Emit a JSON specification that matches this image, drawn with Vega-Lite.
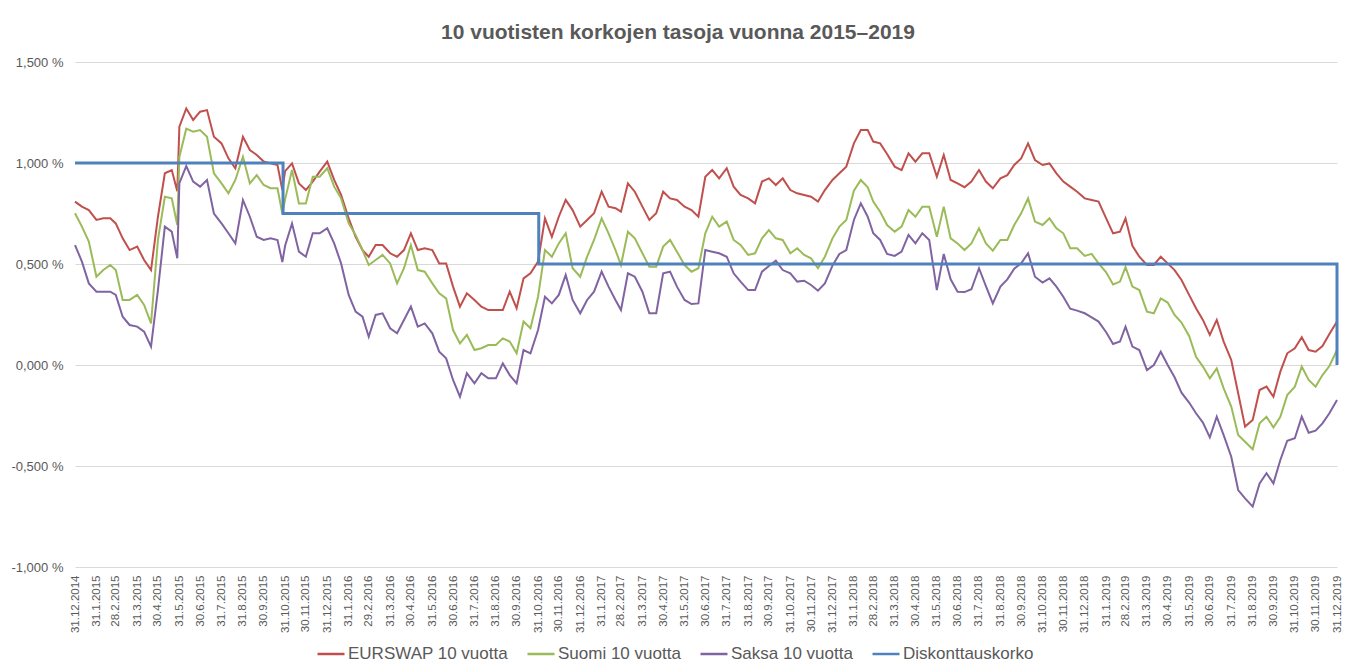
{
  "$schema": "https://vega.github.io/schema/vega-lite/v6.json",
  "width": 1262,
  "height": 505,
  "autosize": {"type": "none"},
  "padding": {"left": 75, "top": 62, "right": 19, "bottom": 105},
  "background": "white",
  "title": {"text": "10 vuotisten korkojen tasoja vuonna 2015–2019", "font": "Liberation Sans", "fontSize": 21, "fontWeight": "bold", "color": "#595959", "anchor": "middle", "dx": -28, "offset": 13},
  "config": {"view": {"stroke": null}},
  "datasets": {
    "months": [
      {"d":"2014-12-31"},{"d":"2015-01-31"},{"d":"2015-02-28"},{"d":"2015-03-31"},{"d":"2015-04-30"},{"d":"2015-05-31"},{"d":"2015-06-30"},{"d":"2015-07-31"},{"d":"2015-08-31"},{"d":"2015-09-30"},{"d":"2015-10-31"},{"d":"2015-11-30"},{"d":"2015-12-31"},
      {"d":"2016-01-31"},{"d":"2016-02-29"},{"d":"2016-03-31"},{"d":"2016-04-30"},{"d":"2016-05-31"},{"d":"2016-06-30"},{"d":"2016-07-31"},{"d":"2016-08-31"},{"d":"2016-09-30"},{"d":"2016-10-31"},{"d":"2016-11-30"},{"d":"2016-12-31"},
      {"d":"2017-01-31"},{"d":"2017-02-28"},{"d":"2017-03-31"},{"d":"2017-04-30"},{"d":"2017-05-31"},{"d":"2017-06-30"},{"d":"2017-07-31"},{"d":"2017-08-31"},{"d":"2017-09-30"},{"d":"2017-10-31"},{"d":"2017-11-30"},{"d":"2017-12-31"},
      {"d":"2018-01-31"},{"d":"2018-02-28"},{"d":"2018-03-31"},{"d":"2018-04-30"},{"d":"2018-05-31"},{"d":"2018-06-30"},{"d":"2018-07-31"},{"d":"2018-08-31"},{"d":"2018-09-30"},{"d":"2018-10-31"},{"d":"2018-11-30"},{"d":"2018-12-31"},
      {"d":"2019-01-31"},{"d":"2019-02-28"},{"d":"2019-03-31"},{"d":"2019-04-30"},{"d":"2019-05-31"},{"d":"2019-06-30"},{"d":"2019-07-31"},{"d":"2019-08-31"},{"d":"2019-09-30"},{"d":"2019-10-31"},{"d":"2019-11-30"},{"d":"2019-12-31"}
    ],
    "disk": [
      {"d":"2014-12-31","v":1.0},
      {"d":"2015-10-28","v":0.75},
      {"d":"2016-11-01","v":0.5},
      {"d":"2019-12-31","v":0.0}
    ],
    "rates": [
      {"d":"2014-12-31","e":0.809,"s":0.751,"g":0.594},
      {"d":"2015-01-10","e":0.784,"s":0.685,"g":0.512},
      {"d":"2015-01-20","e":0.767,"s":0.611,"g":0.404},
      {"d":"2015-01-31","e":0.718,"s":0.437,"g":0.363},
      {"d":"2015-02-10","e":0.726,"s":0.470,"g":0.363},
      {"d":"2015-02-20","e":0.726,"s":0.495,"g":0.363},
      {"d":"2015-02-28","e":0.701,"s":0.470,"g":0.347},
      {"d":"2015-03-10","e":0.627,"s":0.322,"g":0.239},
      {"d":"2015-03-20","e":0.569,"s":0.322,"g":0.198},
      {"d":"2015-03-31","e":0.586,"s":0.347,"g":0.190},
      {"d":"2015-04-10","e":0.520,"s":0.297,"g":0.165},
      {"d":"2015-04-20","e":0.470,"s":0.206,"g":0.091},
      {"d":"2015-04-30","e":0.734,"s":0.619,"g":0.371},
      {"d":"2015-05-10","e":0.949,"s":0.833,"g":0.685},
      {"d":"2015-05-20","e":0.965,"s":0.825,"g":0.660},
      {"d":"2015-05-28","e":0.860,"s":0.693,"g":0.528},
      {"d":"2015-05-31","e":1.180,"s":1.030,"g":0.900},
      {"d":"2015-06-10","e":1.270,"s":1.170,"g":0.985},
      {"d":"2015-06-20","e":1.213,"s":1.155,"g":0.908},
      {"d":"2015-06-30","e":1.254,"s":1.163,"g":0.883},
      {"d":"2015-07-10","e":1.262,"s":1.130,"g":0.916},
      {"d":"2015-07-20","e":1.130,"s":0.949,"g":0.750},
      {"d":"2015-07-31","e":1.097,"s":0.899,"g":0.701},
      {"d":"2015-08-10","e":1.023,"s":0.850,"g":0.652},
      {"d":"2015-08-20","e":0.974,"s":0.916,"g":0.602},
      {"d":"2015-08-31","e":1.130,"s":1.031,"g":0.817},
      {"d":"2015-09-10","e":1.064,"s":0.899,"g":0.734},
      {"d":"2015-09-20","e":1.040,"s":0.940,"g":0.635},
      {"d":"2015-09-30","e":1.007,"s":0.891,"g":0.619},
      {"d":"2015-10-10","e":0.998,"s":0.875,"g":0.627},
      {"d":"2015-10-20","e":0.990,"s":0.875,"g":0.619},
      {"d":"2015-10-27","e":0.866,"s":0.750,"g":0.510},
      {"d":"2015-10-31","e":0.960,"s":0.820,"g":0.590},
      {"d":"2015-11-10","e":0.998,"s":0.965,"g":0.701},
      {"d":"2015-11-20","e":0.899,"s":0.800,"g":0.561},
      {"d":"2015-11-30","e":0.866,"s":0.800,"g":0.536},
      {"d":"2015-12-10","e":0.908,"s":0.932,"g":0.652},
      {"d":"2015-12-20","e":0.957,"s":0.932,"g":0.652},
      {"d":"2015-12-31","e":1.007,"s":0.974,"g":0.677},
      {"d":"2016-01-10","e":0.916,"s":0.883,"g":0.602},
      {"d":"2016-01-20","e":0.842,"s":0.825,"g":0.503},
      {"d":"2016-01-31","e":0.726,"s":0.701,"g":0.347},
      {"d":"2016-02-10","e":0.635,"s":0.644,"g":0.264},
      {"d":"2016-02-20","e":0.569,"s":0.569,"g":0.239},
      {"d":"2016-02-29","e":0.536,"s":0.495,"g":0.140},
      {"d":"2016-03-10","e":0.594,"s":0.520,"g":0.248},
      {"d":"2016-03-20","e":0.594,"s":0.545,"g":0.256},
      {"d":"2016-03-31","e":0.553,"s":0.503,"g":0.182},
      {"d":"2016-04-10","e":0.536,"s":0.404,"g":0.157},
      {"d":"2016-04-20","e":0.569,"s":0.479,"g":0.223},
      {"d":"2016-04-30","e":0.652,"s":0.594,"g":0.289},
      {"d":"2016-05-10","e":0.569,"s":0.470,"g":0.190},
      {"d":"2016-05-20","e":0.578,"s":0.462,"g":0.206},
      {"d":"2016-05-31","e":0.569,"s":0.404,"g":0.157},
      {"d":"2016-06-10","e":0.503,"s":0.355,"g":0.066},
      {"d":"2016-06-20","e":0.503,"s":0.330,"g":0.033},
      {"d":"2016-06-30","e":0.388,"s":0.173,"g":-0.074},
      {"d":"2016-07-10","e":0.289,"s":0.107,"g":-0.157},
      {"d":"2016-07-20","e":0.355,"s":0.149,"g":-0.041},
      {"d":"2016-07-31","e":0.322,"s":0.074,"g":-0.091},
      {"d":"2016-08-10","e":0.289,"s":0.083,"g":-0.041},
      {"d":"2016-08-20","e":0.272,"s":0.099,"g":-0.066},
      {"d":"2016-08-31","e":0.272,"s":0.099,"g":-0.066},
      {"d":"2016-09-10","e":0.272,"s":0.132,"g":0.008},
      {"d":"2016-09-20","e":0.363,"s":0.116,"g":-0.050},
      {"d":"2016-09-30","e":0.281,"s":0.058,"g":-0.091},
      {"d":"2016-10-10","e":0.429,"s":0.215,"g":0.074},
      {"d":"2016-10-20","e":0.454,"s":0.182,"g":0.058},
      {"d":"2016-10-31","e":0.512,"s":0.338,"g":0.173},
      {"d":"2016-11-10","e":0.726,"s":0.569,"g":0.338},
      {"d":"2016-11-20","e":0.635,"s":0.536,"g":0.305},
      {"d":"2016-11-30","e":0.734,"s":0.602,"g":0.347},
      {"d":"2016-12-10","e":0.817,"s":0.652,"g":0.446},
      {"d":"2016-12-20","e":0.767,"s":0.479,"g":0.322},
      {"d":"2016-12-31","e":0.685,"s":0.437,"g":0.256},
      {"d":"2017-01-10","e":0.718,"s":0.536,"g":0.322},
      {"d":"2017-01-20","e":0.751,"s":0.619,"g":0.363},
      {"d":"2017-01-31","e":0.858,"s":0.726,"g":0.462},
      {"d":"2017-02-10","e":0.784,"s":0.652,"g":0.388},
      {"d":"2017-02-20","e":0.776,"s":0.569,"g":0.322},
      {"d":"2017-02-28","e":0.759,"s":0.495,"g":0.272},
      {"d":"2017-03-10","e":0.899,"s":0.660,"g":0.454},
      {"d":"2017-03-20","e":0.858,"s":0.627,"g":0.437},
      {"d":"2017-03-31","e":0.784,"s":0.553,"g":0.363},
      {"d":"2017-04-10","e":0.718,"s":0.487,"g":0.256},
      {"d":"2017-04-20","e":0.751,"s":0.487,"g":0.256},
      {"d":"2017-04-30","e":0.858,"s":0.586,"g":0.454},
      {"d":"2017-05-10","e":0.825,"s":0.619,"g":0.462},
      {"d":"2017-05-20","e":0.817,"s":0.561,"g":0.388},
      {"d":"2017-05-31","e":0.784,"s":0.495,"g":0.322},
      {"d":"2017-06-10","e":0.767,"s":0.462,"g":0.302},
      {"d":"2017-06-20","e":0.734,"s":0.479,"g":0.305},
      {"d":"2017-06-30","e":0.932,"s":0.652,"g":0.569},
      {"d":"2017-07-10","e":0.965,"s":0.734,"g":0.561},
      {"d":"2017-07-20","e":0.924,"s":0.685,"g":0.553},
      {"d":"2017-07-31","e":0.974,"s":0.710,"g":0.536},
      {"d":"2017-08-10","e":0.883,"s":0.619,"g":0.454},
      {"d":"2017-08-20","e":0.842,"s":0.594,"g":0.413},
      {"d":"2017-08-31","e":0.825,"s":0.545,"g":0.371},
      {"d":"2017-09-10","e":0.800,"s":0.553,"g":0.371},
      {"d":"2017-09-20","e":0.908,"s":0.627,"g":0.462},
      {"d":"2017-09-30","e":0.924,"s":0.668,"g":0.490},
      {"d":"2017-10-10","e":0.891,"s":0.627,"g":0.516},
      {"d":"2017-10-20","e":0.924,"s":0.619,"g":0.470},
      {"d":"2017-10-31","e":0.866,"s":0.553,"g":0.454},
      {"d":"2017-11-10","e":0.850,"s":0.578,"g":0.413},
      {"d":"2017-11-20","e":0.842,"s":0.545,"g":0.417},
      {"d":"2017-11-30","e":0.833,"s":0.528,"g":0.396},
      {"d":"2017-12-10","e":0.809,"s":0.479,"g":0.368},
      {"d":"2017-12-20","e":0.866,"s":0.536,"g":0.404},
      {"d":"2017-12-31","e":0.916,"s":0.627,"g":0.492},
      {"d":"2018-01-10","e":0.949,"s":0.685,"g":0.550},
      {"d":"2018-01-20","e":0.982,"s":0.718,"g":0.569},
      {"d":"2018-01-31","e":1.097,"s":0.863,"g":0.718},
      {"d":"2018-02-10","e":1.163,"s":0.916,"g":0.800},
      {"d":"2018-02-20","e":1.163,"s":0.880,"g":0.734},
      {"d":"2018-02-28","e":1.106,"s":0.809,"g":0.652},
      {"d":"2018-03-10","e":1.097,"s":0.759,"g":0.619},
      {"d":"2018-03-20","e":1.045,"s":0.693,"g":0.550},
      {"d":"2018-03-31","e":0.982,"s":0.660,"g":0.540},
      {"d":"2018-04-10","e":0.965,"s":0.685,"g":0.561},
      {"d":"2018-04-20","e":1.048,"s":0.767,"g":0.644},
      {"d":"2018-04-30","e":1.007,"s":0.734,"g":0.602},
      {"d":"2018-05-10","e":1.048,"s":0.784,"g":0.652},
      {"d":"2018-05-20","e":1.048,"s":0.784,"g":0.619},
      {"d":"2018-05-31","e":0.932,"s":0.635,"g":0.371},
      {"d":"2018-06-10","e":1.040,"s":0.784,"g":0.550},
      {"d":"2018-06-20","e":0.916,"s":0.627,"g":0.424},
      {"d":"2018-06-30","e":0.899,"s":0.602,"g":0.363},
      {"d":"2018-07-10","e":0.880,"s":0.569,"g":0.361},
      {"d":"2018-07-20","e":0.908,"s":0.602,"g":0.375},
      {"d":"2018-07-31","e":0.965,"s":0.677,"g":0.479},
      {"d":"2018-08-10","e":0.908,"s":0.602,"g":0.391},
      {"d":"2018-08-20","e":0.875,"s":0.566,"g":0.305},
      {"d":"2018-08-31","e":0.924,"s":0.619,"g":0.388},
      {"d":"2018-09-10","e":0.940,"s":0.619,"g":0.424},
      {"d":"2018-09-20","e":0.990,"s":0.693,"g":0.477},
      {"d":"2018-09-30","e":1.023,"s":0.751,"g":0.503},
      {"d":"2018-10-10","e":1.097,"s":0.825,"g":0.553},
      {"d":"2018-10-20","e":1.015,"s":0.710,"g":0.437},
      {"d":"2018-10-31","e":0.990,"s":0.693,"g":0.408},
      {"d":"2018-11-10","e":0.998,"s":0.726,"g":0.429},
      {"d":"2018-11-20","e":0.949,"s":0.677,"g":0.388},
      {"d":"2018-11-30","e":0.908,"s":0.652,"g":0.338},
      {"d":"2018-12-10","e":0.883,"s":0.578,"g":0.279},
      {"d":"2018-12-20","e":0.858,"s":0.578,"g":0.269},
      {"d":"2018-12-31","e":0.825,"s":0.540,"g":0.256},
      {"d":"2019-01-10","e":0.817,"s":0.550,"g":0.236},
      {"d":"2019-01-20","e":0.809,"s":0.503,"g":0.215},
      {"d":"2019-01-31","e":0.726,"s":0.459,"g":0.162},
      {"d":"2019-02-10","e":0.652,"s":0.399,"g":0.104},
      {"d":"2019-02-20","e":0.660,"s":0.413,"g":0.116},
      {"d":"2019-02-28","e":0.726,"s":0.484,"g":0.190},
      {"d":"2019-03-10","e":0.590,"s":0.388,"g":0.091},
      {"d":"2019-03-20","e":0.536,"s":0.371,"g":0.074},
      {"d":"2019-03-31","e":0.495,"s":0.264,"g":-0.025},
      {"d":"2019-04-10","e":0.495,"s":0.256,"g":0.000},
      {"d":"2019-04-20","e":0.536,"s":0.330,"g":0.066},
      {"d":"2019-04-30","e":0.503,"s":0.309,"g":0.000},
      {"d":"2019-05-10","e":0.470,"s":0.248,"g":-0.061},
      {"d":"2019-05-20","e":0.421,"s":0.210,"g":-0.137},
      {"d":"2019-05-31","e":0.347,"s":0.144,"g":-0.186},
      {"d":"2019-06-10","e":0.281,"s":0.041,"g":-0.239},
      {"d":"2019-06-20","e":0.223,"s":-0.008,"g":-0.285},
      {"d":"2019-06-30","e":0.149,"s":-0.066,"g":-0.358},
      {"d":"2019-07-10","e":0.223,"s":-0.017,"g":-0.256},
      {"d":"2019-07-20","e":0.116,"s":-0.116,"g":-0.347},
      {"d":"2019-07-31","e":0.025,"s":-0.206,"g":-0.454},
      {"d":"2019-08-10","e":-0.140,"s":-0.347,"g":-0.619},
      {"d":"2019-08-20","e":-0.305,"s":-0.380,"g":-0.660},
      {"d":"2019-08-31","e":-0.272,"s":-0.417,"g":-0.701},
      {"d":"2019-09-10","e":-0.124,"s":-0.289,"g":-0.586},
      {"d":"2019-09-20","e":-0.107,"s":-0.256,"g":-0.536},
      {"d":"2019-09-30","e":-0.157,"s":-0.309,"g":-0.586},
      {"d":"2019-10-10","e":-0.033,"s":-0.256,"g":-0.470},
      {"d":"2019-10-20","e":0.058,"s":-0.149,"g":-0.375},
      {"d":"2019-10-31","e":0.083,"s":-0.107,"g":-0.363},
      {"d":"2019-11-10","e":0.137,"s":-0.008,"g":-0.256},
      {"d":"2019-11-20","e":0.074,"s":-0.074,"g":-0.335},
      {"d":"2019-11-30","e":0.066,"s":-0.107,"g":-0.325},
      {"d":"2019-12-10","e":0.094,"s":-0.050,"g":-0.289},
      {"d":"2019-12-20","e":0.153,"s":-0.005,"g":-0.239},
      {"d":"2019-12-31","e":0.215,"s":0.074,"g":-0.173}
    ]
  },
  "encoding": {
    "x": {
      "field": "d",
      "type": "temporal",
      "scale": {"type": "utc", "nice": false, "domain": [{"year":2014,"month":12,"date":31,"utc":true},{"year":2019,"month":12,"date":31,"utc":true}]},
      "axis": {
        "title": null,
        "grid": false,
        "ticks": false,
        "domain": false,
        "labelAngle": 270,
        "labelOverlap": false,
        "labelFlush": false,
        "labelPadding": 8,
        "labelFont": "Liberation Sans",
        "labelFontSize": 11.5,
        "labelColor": "#595959",
        "labelExpr": "utcFormat(datum.value, '%-d.%-m.%Y')",
        "values": [
          {"year":2014,"month":12,"date":31,"utc":true},
          {"year":2015,"month":1,"date":31,"utc":true},{"year":2015,"month":2,"date":28,"utc":true},{"year":2015,"month":3,"date":31,"utc":true},{"year":2015,"month":4,"date":30,"utc":true},{"year":2015,"month":5,"date":31,"utc":true},{"year":2015,"month":6,"date":30,"utc":true},{"year":2015,"month":7,"date":31,"utc":true},{"year":2015,"month":8,"date":31,"utc":true},{"year":2015,"month":9,"date":30,"utc":true},{"year":2015,"month":10,"date":31,"utc":true},{"year":2015,"month":11,"date":30,"utc":true},{"year":2015,"month":12,"date":31,"utc":true},
          {"year":2016,"month":1,"date":31,"utc":true},{"year":2016,"month":2,"date":29,"utc":true},{"year":2016,"month":3,"date":31,"utc":true},{"year":2016,"month":4,"date":30,"utc":true},{"year":2016,"month":5,"date":31,"utc":true},{"year":2016,"month":6,"date":30,"utc":true},{"year":2016,"month":7,"date":31,"utc":true},{"year":2016,"month":8,"date":31,"utc":true},{"year":2016,"month":9,"date":30,"utc":true},{"year":2016,"month":10,"date":31,"utc":true},{"year":2016,"month":11,"date":30,"utc":true},{"year":2016,"month":12,"date":31,"utc":true},
          {"year":2017,"month":1,"date":31,"utc":true},{"year":2017,"month":2,"date":28,"utc":true},{"year":2017,"month":3,"date":31,"utc":true},{"year":2017,"month":4,"date":30,"utc":true},{"year":2017,"month":5,"date":31,"utc":true},{"year":2017,"month":6,"date":30,"utc":true},{"year":2017,"month":7,"date":31,"utc":true},{"year":2017,"month":8,"date":31,"utc":true},{"year":2017,"month":9,"date":30,"utc":true},{"year":2017,"month":10,"date":31,"utc":true},{"year":2017,"month":11,"date":30,"utc":true},{"year":2017,"month":12,"date":31,"utc":true},
          {"year":2018,"month":1,"date":31,"utc":true},{"year":2018,"month":2,"date":28,"utc":true},{"year":2018,"month":3,"date":31,"utc":true},{"year":2018,"month":4,"date":30,"utc":true},{"year":2018,"month":5,"date":31,"utc":true},{"year":2018,"month":6,"date":30,"utc":true},{"year":2018,"month":7,"date":31,"utc":true},{"year":2018,"month":8,"date":31,"utc":true},{"year":2018,"month":9,"date":30,"utc":true},{"year":2018,"month":10,"date":31,"utc":true},{"year":2018,"month":11,"date":30,"utc":true},{"year":2018,"month":12,"date":31,"utc":true},
          {"year":2019,"month":1,"date":31,"utc":true},{"year":2019,"month":2,"date":28,"utc":true},{"year":2019,"month":3,"date":31,"utc":true},{"year":2019,"month":4,"date":30,"utc":true},{"year":2019,"month":5,"date":31,"utc":true},{"year":2019,"month":6,"date":30,"utc":true},{"year":2019,"month":7,"date":31,"utc":true},{"year":2019,"month":8,"date":31,"utc":true},{"year":2019,"month":9,"date":30,"utc":true},{"year":2019,"month":10,"date":31,"utc":true},{"year":2019,"month":11,"date":30,"utc":true},{"year":2019,"month":12,"date":31,"utc":true}
        ]
      }
    },
    "y": {
      "field": "v",
      "type": "quantitative",
      "scale": {"domain": [-1, 1.5], "nice": false, "zero": false},
      "axis": {
        "title": null,
        "values": [-1, -0.5, 0, 0.5, 1, 1.5],
        "grid": true,
        "gridColor": "#d9d9d9",
        "gridWidth": 1,
        "domain": false,
        "ticks": false,
        "labelPadding": 12,
        "labelFont": "Liberation Sans",
        "labelFontSize": 13,
        "labelColor": "#595959",
        "labelExpr": "(datum.value < 0 ? '-' : '') + replace(format(abs(datum.value), '.3f'), '.', ',') + ' %'"
      }
    }
  },
  "layer": [
    {
      "data": {"name": "rates"},
      "transform": [{"fold": ["e", "s", "g"], "as": ["k", "v"]}],
      "mark": {"type": "line", "strokeWidth": 2},
      "encoding": {
        "color": {
          "field": "k",
          "type": "nominal",
          "sort": ["e", "s", "g", "b"],
          "scale": {"domain": ["e", "s", "g", "b"], "range": ["#C0504D", "#9BBB59", "#8064A2", "#4F81BD"]},
          "legend": {
            "title": null,
            "orient": "none",
            "legendX": 241,
            "legendY": 577,
            "direction": "horizontal",
            "symbolType": "stroke",
            "symbolSize": 729,
            "symbolStrokeWidth": 2.5,
            "labelFont": "Liberation Sans",
            "labelFontSize": 17,
            "labelColor": "#595959",
            "labelOffset": 2,
            "columnPadding": 14,
            "labelLimit": 400,
            "labelExpr": "datum.label == 'e' ? 'EURSWAP 10 vuotta' : datum.label == 's' ? 'Suomi 10 vuotta' : datum.label == 'g' ? 'Saksa 10 vuotta' : 'Diskonttauskorko'"
          }
        }
      }
    },
    {
      "data": {"name": "disk"},
      "mark": {"type": "line", "interpolate": "step-after", "strokeWidth": 3},
      "encoding": {
        "color": {"datum": "b", "legend": null}
      }
    },
    {
      "data": {"name": "months"},
      "mark": {"type": "rule", "color": "#d9d9d9", "strokeWidth": 1},
      "encoding": {
        "y": {"datum": 0},
        "y2": {"datum": -0.032}
      }
    }
  ]
}
